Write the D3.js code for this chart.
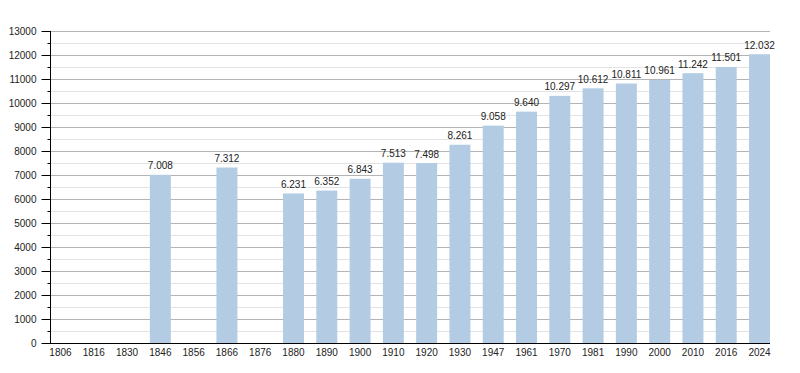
<!DOCTYPE html>
<meta charset="utf-8">
<style type="text/css">
body { margin: 0; background: #fff; }
text { font-family: "Liberation Sans", Arial, sans-serif; font-size: 10px; fill: #222; }
.bar { fill: #b3cce4; }
.grid-major { stroke: #b4b4b4; stroke-width: 1; }
.grid-minor { stroke: #e2e2e2; stroke-width: 1; }
</style>
<body></body>
<script src="https://d3js.org/d3.v7.min.js"></script>
<script>

// years shown on the x axis
var years = ["1806", "1816", "1830", "1846", "1856", "1866", "1876", "1880", "1890", "1900",
  "1910", "1920", "1930", "1947", "1961", "1970", "1981", "1990", "2000", "2010", "2016", "2024"];

// population (null = no data for that year)
var population = [null, null, null, 7008, null, 7312, null, 6231, 6352, 6843,
  7513, 7498, 8261, 9058, 9640, 10297, 10612, 10811, 10961, 11242, 11501, 12032];

var yTicks = d3.range(0, 13001, 1000);
var yMinor = d3.range(500, 13000, 1000);

var width = 800, height = 373;
var plotLeft = 50, plotRight = 770, plotTop = 31, plotBottom = 343;

var svg = d3.select("body").append("svg")
    .attr("width", width)
    .attr("height", height);

var x = d3.scaleBand()
    .domain(years)
    .range([plotLeft, plotRight])
    .paddingInner(0.37)
    .paddingOuter(0);

var y = d3.scaleLinear()
    .domain([0, 13000])
    .range([plotBottom, plotTop]);

// gridlines
svg.selectAll(".grid-minor")
    .data(yMinor)
  .enter().append("line")
    .attr("class", "grid-minor")
    .attr("x1", plotLeft).attr("x2", plotRight)
    .attr("y1", function(d) { return Math.round(y(d)) + 0.5; })
    .attr("y2", function(d) { return Math.round(y(d)) + 0.5; });

svg.selectAll(".grid-major")
    .data(yTicks.slice(1))
  .enter().append("line")
    .attr("class", "grid-major")
    .attr("x1", plotLeft).attr("x2", plotRight)
    .attr("y1", function(d) { return Math.round(y(d)) + 0.5; })
    .attr("y2", function(d) { return Math.round(y(d)) + 0.5; });

var data = years.map(function(yr, i) { return {year: yr, value: population[i]}; })
    .filter(function(d) { return d.value != null; });

// bars
svg.selectAll(".bar")
    .data(data)
  .enter().append("rect")
    .attr("class", "bar")
    .attr("x", function(d) { return x(d.year); })
    .attr("width", x.bandwidth())
    .attr("y", function(d) { return y(d.value); })
    .attr("height", function(d) { return plotBottom - y(d.value); });

// value labels, dot as thousands separator
var fmt = function(v) { return d3.format(",")(v).replace(/,/g, "."); };
svg.selectAll(".val")
    .data(data)
  .enter().append("text")
    .attr("class", "val")
    .attr("x", function(d) { return x(d.year) + x.bandwidth() / 2; })
    .attr("y", function(d) { return y(d.value) - 5.5; })
    .attr("text-anchor", "middle")
    .text(function(d) { return fmt(d.value); });

// y axis
var yAxis = svg.append("g")
    .attr("transform", "translate(" + (plotLeft + 0.5) + ",0)")
    .call(d3.axisLeft(y).tickValues(yTicks).tickSize(9).tickPadding(5).tickFormat(d3.format("d")));
yAxis.select(".domain").attr("stroke", "#000").attr("d", "M0," + plotTop + "V" + (plotBottom + 0.5));
yAxis.selectAll(".tick line").attr("stroke", "#000");
yAxis.selectAll(".tick text").style("font-size", "10px").attr("fill", "#222");

svg.append("g")
    .attr("transform", "translate(" + (plotLeft + 0.5) + ",0)")
    .selectAll("line")
    .data(yMinor)
  .enter().append("line")
    .attr("x1", -3).attr("x2", 0)
    .attr("y1", function(d) { return Math.round(y(d)) + 0.5; })
    .attr("y2", function(d) { return Math.round(y(d)) + 0.5; })
    .attr("stroke", "#000");

// x axis
var xAxis = svg.append("g")
    .attr("transform", "translate(0," + (plotBottom + 0.5) + ")")
    .call(d3.axisBottom(x).tickSize(0).tickPadding(5));
xAxis.select(".domain").attr("stroke", "#000").attr("d", "M" + plotLeft + ",0H" + plotRight);
xAxis.selectAll(".tick text").style("font-size", "10px").attr("fill", "#222");

</script>
